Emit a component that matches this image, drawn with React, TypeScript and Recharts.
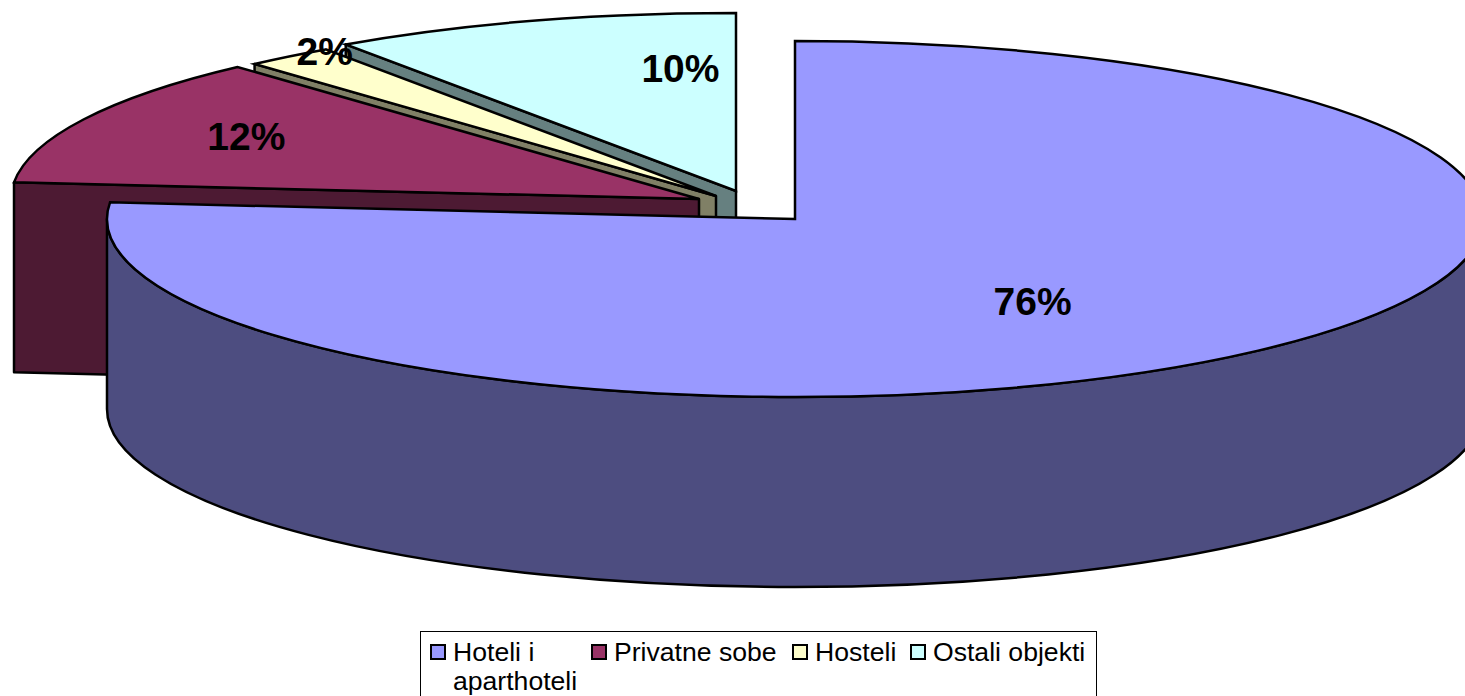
import React from "react";
import { PieChart, Pie, Legend } from "recharts";

// Legend order (clockwise from 12 o'clock in the picture)
const categories = ["Hoteli i aparthoteli", "Privatne sobe", "Hosteli", "Ostali objekti"];
const shares = [76.49, 11.81, 2.1, 9.6];

// Drawn back to front: counter-clockwise from 12 o'clock
const drawOrder = [3, 2, 1, 0];
const pieData = drawOrder.map((i) => ({ name: categories[i], value: shares[i] }));

const WIDTH = 1465;
const HEIGHT = 696;
const CX = 795;
const CY = 219;
const RX = 688;
const RY = 178;
const DEPTH = 190;

const topColors = ["#9999FF", "#993366", "#FFFFCC", "#CCFFFF"];
const sideColors = ["#4D4D80", "#4D1A33", "#808066", "#668080"];
const explodeDx = [0, -96, -79, -59];
const explodeDy = [0, -20, -23, -28];
const labelFx = [0.513, 0.736, 0.917, 0.272];
const labelFy = [0.63, 0.78, 1.035, 0.72];

const FONT = "'Liberation Sans', Arial, sans-serif";
const RAD = Math.PI / 180;

function Slice(props: any) {
  const { cx, cy, startAngle, endAngle, outerRadius, name } = props;
  const idx = categories.indexOf(name);
  const ox = cx + explodeDx[idx];
  const oy = cy + explodeDy[idx];
  const ry = (outerRadius * RY) / RX;
  const a0 = Math.min(startAngle, endAngle);
  const a1 = Math.max(startAngle, endAngle);
  const pt = (a: number, drop = 0) =>
    `${ox + outerRadius * Math.cos(a * RAD)} ${oy - ry * Math.sin(a * RAD) + drop}`;
  const arc = (to: number, sweep: number, large: number, drop = 0) =>
    `A ${outerRadius} ${ry} 0 ${large} ${sweep} ${pt(to, drop)}`;
  const large = a1 - a0 > 180 ? 1 : 0;

  const faces: string[] = [];
  if (Math.cos(a1 * RAD) < -1e-6) {
    faces.push(`M ${ox} ${oy} L ${pt(a1)} L ${pt(a1, DEPTH)} L ${ox} ${oy + DEPTH} Z`);
  }
  if (Math.cos(a0 * RAD) > 1e-6) {
    faces.push(`M ${ox} ${oy} L ${pt(a0)} L ${pt(a0, DEPTH)} L ${ox} ${oy + DEPTH} Z`);
  }
  const w0 = Math.max(a0, 180);
  const w1 = Math.min(a1, 360);
  if (w1 > w0) {
    faces.push(
      `M ${pt(w0)} ${arc(w1, 0, w1 - w0 > 180 ? 1 : 0)} L ${pt(w1, DEPTH)} ${arc(w0, 1, w1 - w0 > 180 ? 1 : 0, DEPTH)} Z`
    );
  }
  const sw = 2.5;
  return (
    <g>
      {faces.map((d, i) => (
        <path key={i} d={d} fill={sideColors[idx]} stroke="#000" strokeWidth={sw} strokeLinejoin="round" />
      ))}
      <path
        d={`M ${ox} ${oy} L ${pt(a0)} ${arc(a1, 0, large)} Z`}
        fill={topColors[idx]}
        stroke="#000"
        strokeWidth={sw}
        strokeLinejoin="miter"
      />
    </g>
  );
}

function SliceLabel(props: any) {
  const { cx, cy, midAngle, outerRadius, name, percent } = props;
  const idx = categories.indexOf(name);
  const ry = (outerRadius * RY) / RX;
  const x = cx + explodeDx[idx] + labelFx[idx] * outerRadius * Math.cos(midAngle * RAD);
  const y = cy + explodeDy[idx] - labelFy[idx] * ry * Math.sin(midAngle * RAD);
  return (
    <text
      x={x}
      y={y}
      textAnchor="middle"
      dominantBaseline="central"
      fontFamily={FONT}
      fontWeight="bold"
      fontSize={39}
      fill="#000"
    >
      {`${Math.round(percent * 100)}%`}
    </text>
  );
}

const legendTemplate = "161px 201px 118px 170px";

function LegendBox() {
  return (
    <div
      style={{
        boxSizing: "border-box",
        width: 677,
        height: 100,
        border: "1px solid #000",
        background: "#fff",
        display: "grid",
        gridTemplateColumns: legendTemplate,
        paddingLeft: 9,
        paddingTop: 6,
        fontFamily: FONT,
        fontSize: 26.6,
        lineHeight: "29px",
        color: "#000",
      }}
    >
      {categories.map((c, i) => (
        <div key={c} style={{ display: "flex", alignItems: "flex-start" }}>
          <span
            style={{
              boxSizing: "border-box",
              flex: "none",
              width: 16,
              height: 16,
              marginTop: 6,
              marginRight: 7,
              border: "2.5px solid #000",
              background: topColors[i],
            }}
          />
          <span style={{ width: i === 0 ? 130 : undefined, whiteSpace: i === 0 ? "normal" : "nowrap" }}>{c}</span>
        </div>
      ))}
    </div>
  );
}

export default function App() {
  return (
    <div style={{ position: "absolute", left: 0, top: 0, width: WIDTH, height: HEIGHT, overflow: "hidden", background: "#fff" }}>
      <PieChart width={WIDTH} height={HEIGHT} margin={{ top: 0, right: 0, bottom: 0, left: 0 }}>
        <Pie
          data={pieData}
          dataKey="value"
          nameKey="name"
          cx={CX}
          cy={CY}
          innerRadius={0}
          outerRadius={RX}
          startAngle={90}
          endAngle={450}
          stroke="none"
          shape={Slice}
          label={SliceLabel}
          labelLine={false}
          isAnimationActive={false}
        />
        <Legend
          content={LegendBox}
          layout="horizontal"
          align="center"
          verticalAlign="bottom"
          wrapperStyle={{ left: 420, top: 631, width: 677, height: 100 }}
        />
      </PieChart>
    </div>
  );
}
